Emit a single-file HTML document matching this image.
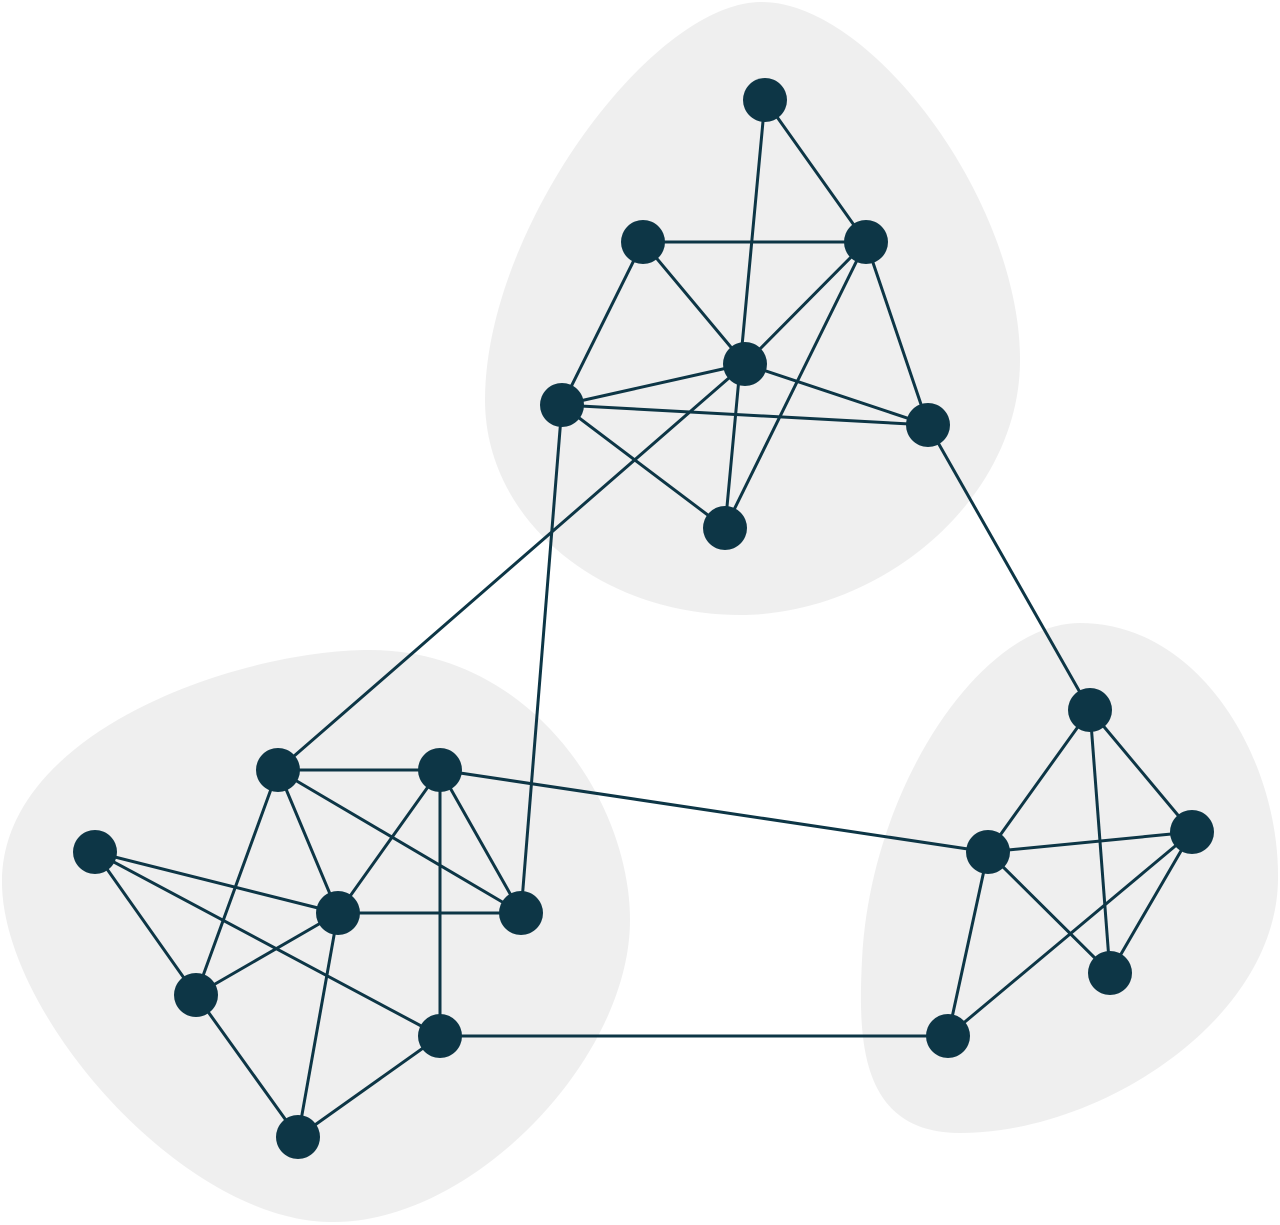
<!DOCTYPE html>
<html><head><style>html,body{margin:0;padding:0;background:#fff}svg{display:block}</style></head>
<body>
<svg width="1280" height="1225" viewBox="0 0 1280 1225" xmlns="http://www.w3.org/2000/svg">
<g fill="#efefef">
<path d="M760,2 C870,0 1020,200 1020,360 C1020,500 880,615 740,615 C600,615 485,520 485,400 C485,230 650,4 760,2 Z"/>
<path d="M370,650 C530,650 630,800 630,920 C630,1060 470,1225 330,1222 C180,1220 0,1010 2,880 C4,730 240,650 370,650 Z"/>
<path d="M1080,623 C1200,623 1280,760 1278,880 C1276,1020 1100,1133 960,1133 C860,1133 858,1040 862,960 C870,790 980,623 1080,623 Z"/>
</g>
<g stroke="#0d3646" stroke-width="3" fill="none">
<line x1="765" y1="100" x2="866" y2="242"/>
<line x1="765" y1="100" x2="725" y2="528"/>
<line x1="643" y1="242" x2="866" y2="242"/>
<line x1="643" y1="242" x2="745" y2="364"/>
<line x1="643" y1="242" x2="562" y2="405"/>
<line x1="866" y1="242" x2="745" y2="364"/>
<line x1="866" y1="242" x2="928" y2="425"/>
<line x1="866" y1="242" x2="725" y2="528"/>
<line x1="745" y1="364" x2="562" y2="405"/>
<line x1="745" y1="364" x2="928" y2="425"/>
<line x1="562" y1="405" x2="928" y2="425"/>
<line x1="562" y1="405" x2="725" y2="528"/>
<line x1="745" y1="364" x2="278" y2="770"/>
<line x1="562" y1="405" x2="521" y2="913"/>
<line x1="928" y1="425" x2="1090" y2="710"/>
<line x1="278" y1="770" x2="440" y2="770"/>
<line x1="278" y1="770" x2="338" y2="913"/>
<line x1="278" y1="770" x2="521" y2="913"/>
<line x1="278" y1="770" x2="196" y2="995"/>
<line x1="440" y1="770" x2="338" y2="913"/>
<line x1="440" y1="770" x2="521" y2="913"/>
<line x1="440" y1="770" x2="440" y2="1036"/>
<line x1="440" y1="770" x2="988" y2="852"/>
<line x1="95" y1="852" x2="338" y2="913"/>
<line x1="95" y1="852" x2="196" y2="995"/>
<line x1="95" y1="852" x2="440" y2="1036"/>
<line x1="338" y1="913" x2="521" y2="913"/>
<line x1="338" y1="913" x2="196" y2="995"/>
<line x1="338" y1="913" x2="298" y2="1137"/>
<line x1="196" y1="995" x2="298" y2="1137"/>
<line x1="440" y1="1036" x2="298" y2="1137"/>
<line x1="440" y1="1036" x2="948" y2="1036"/>
<line x1="1090" y1="710" x2="1192" y2="832"/>
<line x1="1090" y1="710" x2="988" y2="852"/>
<line x1="1090" y1="710" x2="1110" y2="973"/>
<line x1="1192" y1="832" x2="988" y2="852"/>
<line x1="1192" y1="832" x2="1110" y2="973"/>
<line x1="1192" y1="832" x2="948" y2="1036"/>
<line x1="988" y1="852" x2="1110" y2="973"/>
<line x1="988" y1="852" x2="948" y2="1036"/>
</g>
<g fill="#0d3646">
<circle cx="765" cy="100" r="22"/>
<circle cx="643" cy="242" r="22"/>
<circle cx="866" cy="242" r="22"/>
<circle cx="745" cy="364" r="22"/>
<circle cx="562" cy="405" r="22"/>
<circle cx="928" cy="425" r="22"/>
<circle cx="725" cy="528" r="22"/>
<circle cx="278" cy="770" r="22"/>
<circle cx="440" cy="770" r="22"/>
<circle cx="95" cy="852" r="22"/>
<circle cx="338" cy="913" r="22"/>
<circle cx="521" cy="913" r="22"/>
<circle cx="196" cy="995" r="22"/>
<circle cx="440" cy="1036" r="22"/>
<circle cx="298" cy="1137" r="22"/>
<circle cx="1090" cy="710" r="22"/>
<circle cx="1192" cy="832" r="22"/>
<circle cx="988" cy="852" r="22"/>
<circle cx="1110" cy="973" r="22"/>
<circle cx="948" cy="1036" r="22"/>
</g>
</svg>
</body></html>
